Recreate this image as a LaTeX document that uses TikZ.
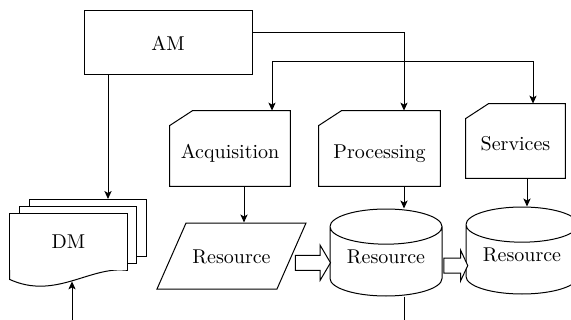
\documentclass[tikz,border=0pt]{standalone}
\usetikzlibrary{shapes.geometric, shapes.arrows, arrows.meta, positioning, calc}
\tikzset{
  box/.style={rectangle, draw, line width=0.5pt, inner sep=0pt},
  card/.style={rectangle, inner sep=0pt, text height=12pt, text depth=2pt,
    append after command={\pgfextra{\draw[line width=0.5pt]
      (\tikzlastnode.south west) -- ([yshift=-7.5pt]\tikzlastnode.north west)
      -- ([xshift=11.5pt]\tikzlastnode.north west) -- (\tikzlastnode.north east)
      -- (\tikzlastnode.south east) -- cycle;}}},
  page/.style={rectangle, draw, fill=white, line width=0.5pt,
    minimum width=58.5pt, minimum height=28.5pt, inner sep=0pt},
  docpage/.style={rectangle, fill=white, inner sep=0pt,
    minimum width=58.5pt, minimum height=28pt,
    append after command={\pgfextra{\draw[line width=0.5pt]
      (\tikzlastnode.south west) -- (\tikzlastnode.north west)
      -- (\tikzlastnode.north east) -- (\tikzlastnode.south east)
      .. controls ([shift={(-18.5pt,2.5pt)}]\tikzlastnode.south east)
      and ([shift={(-36pt,-15pt)}]\tikzlastnode.south east)
      .. ([yshift=-4.5pt]\tikzlastnode.south west) -- cycle;}}},
  slab/.style={trapezium, trapezium left angle=66, trapezium right angle=114,
    trapezium stretches body=true, draw, line width=0.5pt,
    minimum width=74.5pt, minimum height=33pt, inner xsep=0pt, inner ysep=12.8pt,
    text height=7pt, text depth=0pt},
  drum/.style={cylinder, shape border rotate=90, draw, line width=0.5pt,
    aspect=0.45, minimum width=56pt, minimum height=43.5pt, inner sep=0pt,
    text height=7pt, text depth=5pt, anchor=shape center},
  fatarrow/.style={single arrow, draw, fill=white, line width=0.5pt,
    inner sep=0pt, text height=3.5pt, text depth=3.5pt,
    single arrow head indent=0pt},
  arrow/.style={-{Stealth[length=4pt, width=3.6pt, inset=1pt]}, line width=0.5pt},
  line/.style={line width=0.5pt}
}
\begin{document}
\begin{tikzpicture}[x=0.5pt, y=-0.5pt, every node/.style={font=\fontsize{10}{12}\selectfont}]
  \useasboundingbox (0,0) rectangle (571,320);
  \clip (0,0) rectangle (571,320);

  \node[box, minimum width=84pt, minimum height=32pt] (am) at (168,43) {AM};

  % the three task cards
  \node[card, minimum width=60pt, minimum height=37.5pt] (acq) at (230,148.5) {Acquisition};
  \node[card, minimum width=60.5pt, minimum height=37.5pt] (proc) at (379.5,148.5) {Processing};
  \node[card, minimum width=49.5pt, minimum height=37pt] (serv) at (515.5,141) {Services};

  % stacked documents
  \node[page] (dmback) at (87.5,228) {};
  \node[page] (dmmid) at ([shift={(-5pt,-3.5pt)}]dmback) {};
  \node[docpage] (dm) at ([shift={(-4.5pt,-3.5pt)}]dmmid) {DM};

  % resources
  \node[slab] (res1) at (231.5,256) {Resource};
  \node[drum] (res2) at (386,252.5) {Resource};
  \node[drum] (res3) at (522,250.5) {Resource};

  \node[fatarrow, minimum height=17.5pt, single arrow head extend=5pt,
    single arrow tip angle=119]
    (push1) at ([yshift=-2pt]$(res1.east)!0.5!(res2.west)$) {};
  \node[fatarrow, minimum height=12pt, single arrow head extend=4pt,
    single arrow tip angle=130]
    (push2) at ([yshift=-2.5pt]$(res2.east)!0.5!(res3.west)$) {};

  \coordinate (bus) at (272,62);
  \coordinate (dmfoot) at (72,320);
  \coordinate (pout) at (404,320);

  % connectors
  \draw[arrow] ([xshift=10.25pt]dmback.north |- am.south) -- ([xshift=10.25pt]dmback.north);
  \draw[arrow] ([yshift=5pt]am.east) -| ([xshift=12.25pt]proc.north);
  \draw[arrow] (bus) -- (bus |- acq.north);
  \draw[arrow] (bus) -| ([xshift=8.75pt]serv.north);

  \draw[arrow] ([xshift=7pt]acq.south) -- ([xshift=7pt]acq.south |- res1.north);
  \draw[arrow] ([xshift=12.25pt]proc.south) -- ([xshift=12.25pt]proc.south |- res2.north);
  \draw[arrow] ([xshift=5.75pt]serv.south) -- ([xshift=5.75pt]serv.south |- res3.north);

  \draw[line] (pout |- res2.south) -- (pout);
  \draw[arrow, shorten >=5.5pt] (dmfoot) -- (dmfoot |- dm.south);
\end{tikzpicture}
\end{document}
